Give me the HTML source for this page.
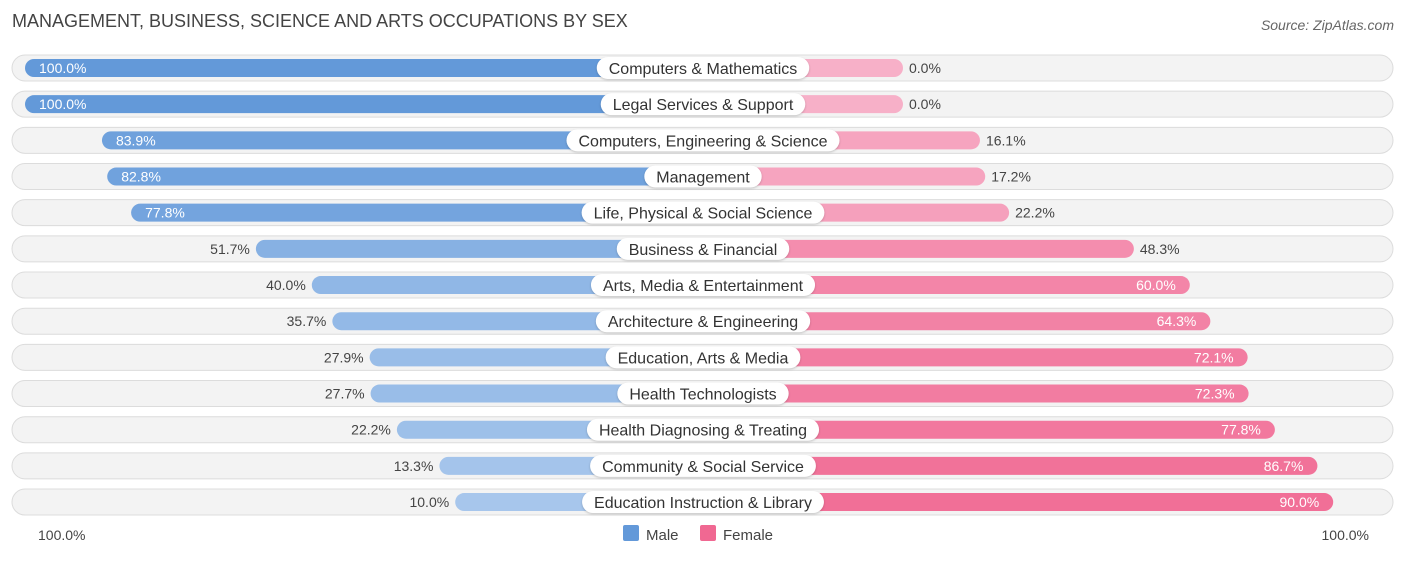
<!DOCTYPE html>
<html><head><meta charset="utf-8"><style>
body{margin:0;background:#fff;font-family:"Liberation Sans",sans-serif}
svg text{font-family:"Liberation Sans",sans-serif}
</style></head><body>
<svg id="c" width="1406" height="559">
<text x="12" y="27" font-size="18" fill="#444">MANAGEMENT, BUSINESS, SCIENCE AND ARTS OCCUPATIONS BY SEX</text>
<text x="1394" y="30" font-size="14" fill="#666" font-style="italic" text-anchor="end">Source: ZipAtlas.com</text>
<g id="rows"></g>
<text x="38" y="540" font-size="14" fill="#444">100.0%</text>
<text x="1369" y="540" font-size="14" fill="#444" text-anchor="end">100.0%</text>
<g><rect x="623" y="525" width="16" height="16" rx="2" fill="#6399d9"/><text x="646" y="540" font-size="15" fill="#444">Male</text></g>
<g><rect x="700" y="525" width="16" height="16" rx="2" fill="#f06892"/><text x="723" y="540" font-size="15" fill="#444">Female</text></g>
</svg>
<script>
const categories=["Computers & Mathematics","Legal Services & Support","Computers, Engineering & Science","Management","Life, Physical & Social Science","Business & Financial","Arts, Media & Entertainment","Architecture & Engineering","Education, Arts & Media","Health Technologists","Health Diagnosing & Treating","Community & Social Service","Education Instruction & Library"];
const male=[100,100,83.9,82.8,77.8,51.7,40.0,35.7,27.9,27.7,22.2,13.3,10.0];
const female=[0,0,16.1,17.2,22.2,48.3,60.0,64.3,72.1,72.3,77.8,86.7,90.0];
const NS="http://www.w3.org/2000/svg";
const cx=703, base=200, scale=4.78, y0=68, dy=36.17;
function len(v){return base+scale*v;}
function mix(a,b,t){return 'rgb('+a.map((x,i)=>Math.round(x+(b[i]-x)*t)).join(',')+')';}
function el(tag,attrs,parent){const e=document.createElementNS(NS,tag);for(const k in attrs)e.setAttribute(k,attrs[k]);parent.appendChild(e);return e;}
const g=document.getElementById('rows');
categories.forEach((cat,i)=>{
  const y=y0+i*dy;
  const row=el('g',{},g);
  
  
  const bg=el('rect',{x:12,y:y-13,width:1381,height:26,rx:13,fill:'#f3f3f3',stroke:'#dcdcdc','stroke-width':1},row);
  
  
  const ml=len(male[i]);
  const mb=el('rect',{x:cx-ml,y:y-9,width:ml,height:18,rx:9,fill:mix([174,203,238],[99,153,217],male[i]/100)},row);
  
  
  const fl=len(female[i]);
  const fb=el('rect',{x:cx,y:y-9,width:fl,height:18,rx:9,fill:mix([247,176,200],[240,104,146],female[i]/100)},row);
  
  
  const mIn=male[i]>55;
  const mt=el('text',{x:mIn?cx-ml+14:cx-ml-6,y:y+5,'font-size':14,fill:mIn?'#fff':'#444','text-anchor':mIn?'start':'end'},row);
  mt.textContent=male[i].toFixed(1)+'%';
  
  
  const fIn=female[i]>55;
  const ft=el('text',{x:fIn?cx+fl-14:cx+fl+6,y:y+5,'font-size':14,fill:fIn?'#fff':'#444','text-anchor':fIn?'end':'start'},row);
  ft.textContent=female[i].toFixed(1)+'%';
  
  
  const lt=el('text',{x:cx,y:y+6,'font-size':16,fill:'#333','text-anchor':'middle'},row);
  lt.textContent=cat;
  
  
  const w=lt.getComputedTextLength()+24;
  const pill=el('rect',{x:cx-w/2,y:y-11,width:w,height:22,rx:11,fill:'#fff',style:'filter:drop-shadow(0 1px 1px rgba(0,0,0,0.2))'},row);
  
  
  row.appendChild(lt);
});
</script>
</body></html>
